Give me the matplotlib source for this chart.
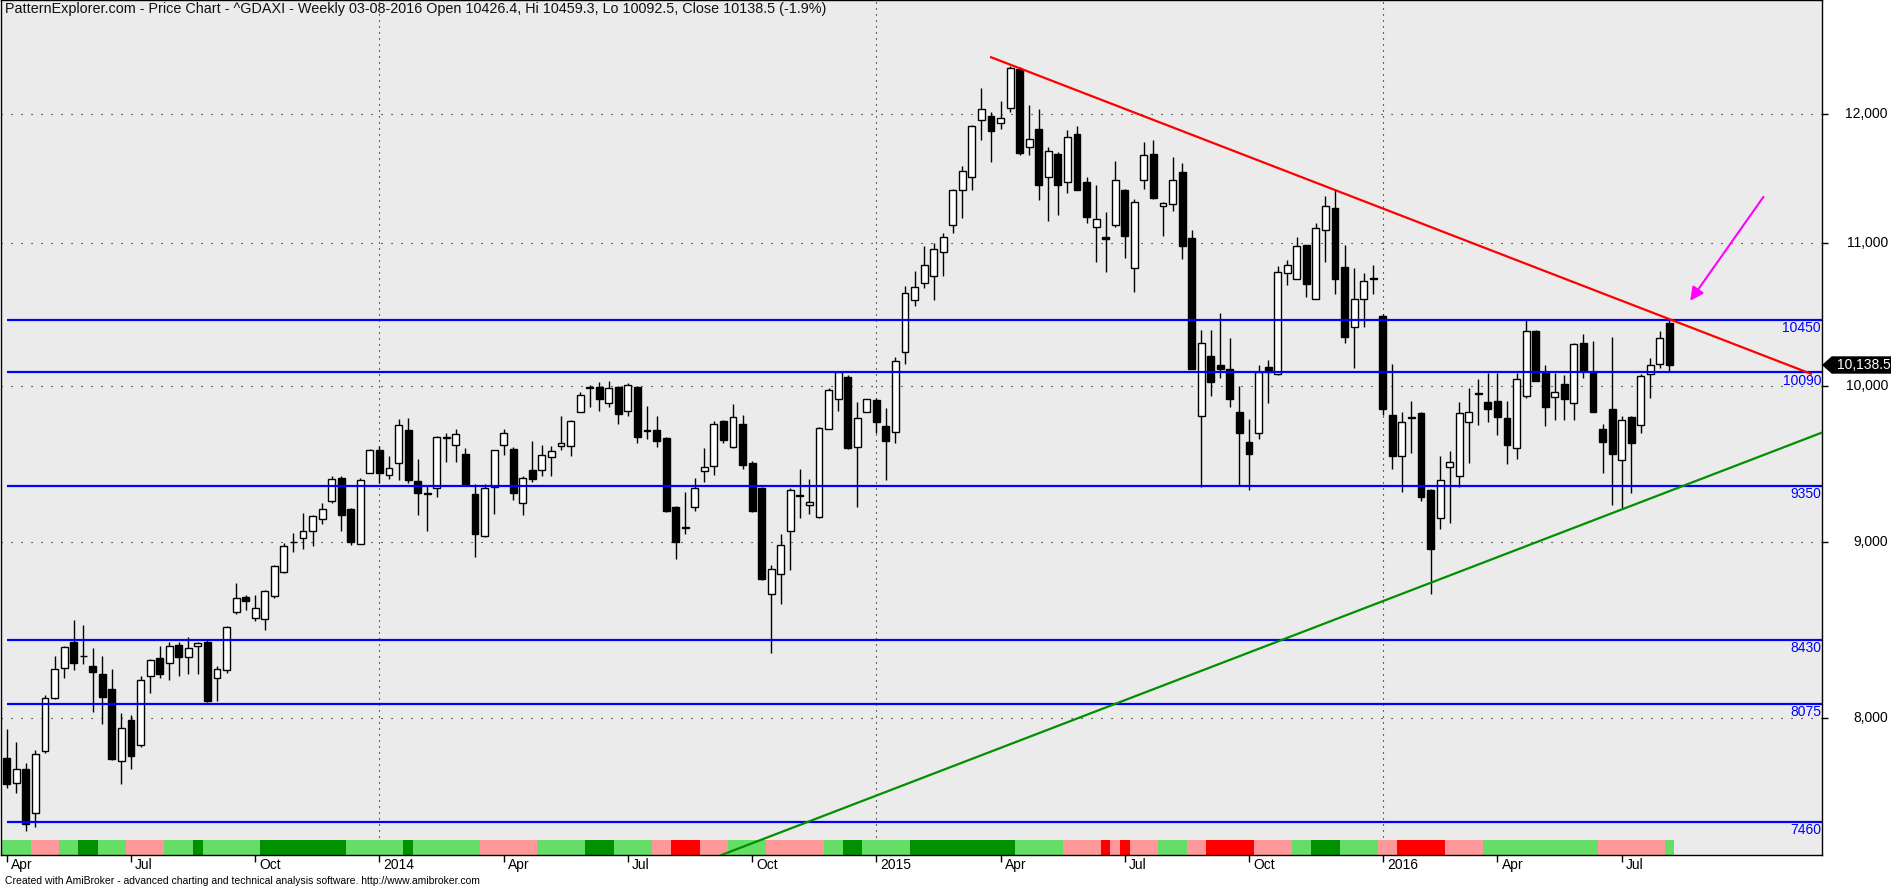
import numpy as np
import matplotlib.pyplot as plt
from matplotlib.patches import Rectangle, Polygon
from matplotlib.ticker import FixedLocator, NullLocator, NullFormatter
from matplotlib.transforms import blended_transform_factory, IdentityTransform

plt.rcParams['font.family'] = ['Liberation Sans', 'DejaVu Sans']

# weekly ^GDAXI, Apr 2013 .. 03-08-2016
opens = [7789, 7660, 7733, 7508, 7822, 8110, 8271, 8420, 8340, 8284,
         8237, 8159, 7771, 7990, 7858, 8231, 8331, 8303, 8404, 8334,
         8395, 8420, 8218, 8262, 8592, 8677, 8553, 8549, 8680, 8824,
         9005, 9027, 9072, 9144, 9253, 9401, 9207, 8993, 9430, 9575,
         9419, 9491, 9703, 9377, 9306, 9334, 9652, 9611, 9549, 9295,
         9041, 9341, 9611, 9582, 9242, 9448, 9448, 9531, 9600, 9600,
         9825, 9980, 9992, 9882, 9992, 9833, 9992, 9707, 9703, 9655,
         9218, 9096, 9218, 9445, 9477, 9766, 9593, 9747, 9491, 9338,
         8697, 8814, 9072, 9292, 9232, 9155, 9714, 9908, 10056, 9593,
         9825, 9904, 9733, 9692, 10225, 10589, 10711, 10760, 10941, 11139,
         11400, 11504, 11950, 11982, 11927, 12050, 12366, 11734, 11877, 11500,
         11680, 11460, 11837, 11465, 11126, 11046, 11134, 11404, 10817, 11482,
         11680, 11283, 11292, 11539, 11042, 9799, 10199, 10140, 10109, 9825,
         9630, 9685, 10125, 10079, 10785, 10744, 10987, 10601, 11097, 11262,
         10830, 10398, 10601, 10748, 10481, 9807, 9538, 9788, 9814, 9320,
         9151, 9466, 9412, 9755, 9950, 9889, 9897, 9785, 9586, 9927,
         10370, 10090, 9923, 10011, 9882, 10288, 10090, 9711, 9845, 9513,
         9788, 9740, 10079, 10148, 10426.4]
highs = [7942, 7873, 7760, 7828, 8122, 8340, 8398, 8543, 8514, 8385,
         8340, 8268, 8024, 8018, 8231, 8325, 8398, 8420, 8420, 8449,
         8420, 8427, 8284, 8507, 8760, 8687, 8687, 8720, 8864, 8996,
         9058, 9179, 9169, 9242, 9412, 9412, 9211, 9401, 9582, 9604,
         9538, 9777, 9784, 9520, 9348, 9666, 9685, 9714, 9586, 9359,
         9359, 9575, 9714, 9593, 9412, 9637, 9611, 9604, 9796, 9773,
         9957, 10003, 10022, 10033, 10000, 10018, 10000, 9863, 9796, 9663,
         9225, 9313, 9401, 9586, 9766, 9773, 9878, 9803, 9509, 9341,
         8864, 9054, 9334, 9455, 9391, 9725, 9984, 10098, 10071, 9889,
         9912, 9919, 9852, 10195, 10691, 10797, 10983, 11000, 11076, 11408,
         11588, 11909, 12212, 12018, 12105, 12389, 12384, 12073, 12041, 11734,
         11698, 11868, 11905, 11500, 11439, 11232, 11623, 11413, 11330, 11779,
         11792, 11313, 11658, 11610, 11097, 10378, 10378, 10501, 10323, 9996,
         9777, 10137, 10175, 10834, 10879, 11050, 10991, 11155, 11356, 11413,
         10987, 10822, 10781, 10846, 10489, 10148, 9825, 9897, 9822, 9327,
         9538, 9568, 9889, 9984, 10041, 10086, 10086, 9897, 10086, 10458,
         10382, 10137, 10086, 10071, 10292, 10351, 10303, 9747, 10331, 9796,
         9796, 10079, 10187, 10370, 10459.3]
lows = [7631, 7608, 7414, 7436, 7816, 8100, 8218, 8259, 8297, 8033,
        7966, 7777, 7651, 7730, 7843, 8134, 8215, 8209, 8231, 8237,
        8240, 8085, 8094, 8246, 8576, 8602, 8540, 8485, 8670, 8820,
        8942, 8959, 8976, 9113, 9242, 9068, 8986, 8993, 9427, 9366,
        9394, 9384, 9366, 9165, 9068, 9277, 9502, 9499, 9352, 8915,
        9034, 9176, 9546, 9260, 9165, 9370, 9412, 9412, 9575, 9535,
        9822, 9859, 9833, 9859, 9747, 9796, 9622, 9648, 9593, 9183,
        8898, 9051, 9193, 9370, 9419, 9619, 9586, 9455, 9183, 8777,
        8356, 8638, 8837, 9148, 9172, 9151, 9711, 9833, 9582, 9214,
        9822, 9685, 9384, 9619, 10148, 10549, 10678, 10589, 10764, 11076,
        11189, 11404, 11788, 11618, 11882, 12018, 11676, 11676, 11326, 11168,
        11211, 11378, 11404, 11155, 10867, 10793, 11126, 10896, 10650, 11413,
        11335, 11054, 11245, 10887, 10109, 9341, 9927, 10052, 9859, 9352,
        9323, 9648, 9882, 10071, 10699, 10740, 10609, 10597, 10863, 10630,
        10292, 10117, 10398, 10630, 9807, 9455, 9313, 9557, 9253, 8697,
        9079, 9120, 9341, 9491, 9740, 9758, 9674, 9484, 9520, 9916,
        10030, 9733, 9770, 9770, 9770, 10048, 9822, 9430, 9228, 9211,
        9306, 9685, 9919, 10117, 10092.5]
closes = [7651, 7733, 7450, 7807, 8110, 8268, 8388, 8303, 8338, 8252,
          8116, 7783, 7948, 7798, 8206, 8319, 8240, 8398, 8334, 8382,
          8411, 8091, 8268, 8501, 8670, 8654, 8615, 8713, 8857, 8979,
          9000, 9068, 9162, 9207, 9394, 9165, 9000, 9384, 9575, 9430,
          9462, 9736, 9384, 9306, 9299, 9659, 9659, 9681, 9359, 9051,
          9334, 9575, 9685, 9306, 9401, 9394, 9546, 9568, 9619, 9766,
          9935, 9988, 9908, 9980, 9811, 10003, 9659, 9700, 9637, 9190,
          9000, 9089, 9334, 9466, 9747, 9644, 9792, 9481, 9190, 8780,
          8840, 8986, 9323, 9284, 9249, 9722, 9973, 10090, 9586, 9781,
          9908, 9755, 9637, 10164, 10642, 10687, 10842, 10958, 11050, 11400,
          11548, 11900, 12041, 11859, 11964, 12375, 11685, 11801, 11443, 11702,
          11443, 11814, 11404, 11194, 11185, 11034, 11482, 11054, 11309, 11671,
          11339, 11305, 11482, 10979, 10113, 10292, 10026, 10113, 9908, 9685,
          9549, 10090, 10094, 10789, 10846, 10979, 10703, 11113, 11283, 10744,
          10331, 10601, 10723, 10740, 9845, 9535, 9758, 9781, 9277, 8959,
          9384, 9502, 9814, 9822, 9942, 9841, 9788, 9611, 10041, 10370,
          10033, 9859, 9954, 9908, 10284, 10098, 9825, 9630, 9549, 9770,
          9619, 10067, 10137, 10323, 10138.5]

month_pos = [0, 13, 26, 39, 52, 65, 78, 91, 104, 117, 130, 144, 156, 169]
month_labels = ['Apr', 'Jul', 'Oct', '2014', 'Apr', 'Jul', 'Oct', '2015',
                'Apr', 'Jul', 'Oct', '2016', 'Apr', 'Jul']
year_pos = [39, 91, 144]

levels = [10450, 10090, 9350, 8430, 8075, 7460]
price_ticks = [8000, 9000, 10000, 11000, 12000]
price_labels = ['8,000', '9,000', '10,000', '11,000', '12,000']

resistance_x = [103.0, 188.8]
resistance_y = [12465, 10079]
support_x = [74.8, 190.0]
support_y = [7297, 9690]
arrow_from = (184.0, 11367)
arrow_to = (176.0, 10569)

# colour ribbon at the bottom: (colour code, number of weeks)
ribbon_runs = [('L', 3), ('P', 3), ('L', 2), ('D', 2), ('L', 3), ('P', 4), ('L', 3),
               ('D', 1), ('L', 6), ('D', 9), ('L', 6), ('D', 1), ('L', 7), ('P', 6),
               ('L', 5), ('D', 3), ('L', 4), ('P', 2), ('R', 3), ('P', 3), ('L', 4),
               ('P', 6), ('L', 2), ('D', 2), ('L', 5), ('D', 11), ('L', 5), ('P', 4),
               ('R', 1), ('P', 1), ('R', 1), ('P', 3), ('L', 3), ('P', 2), ('R', 5),
               ('P', 4), ('L', 2), ('D', 3), ('L', 4), ('P', 2), ('R', 5), ('P', 4),
               ('L', 12), ('P', 7), ('L', 1)]
ribbon_colors = {'L': '#66dd66', 'D': '#009000', 'P': '#ff9999', 'R': '#ff0000'}

title = ("PatternExplorer.com - Price Chart - ^GDAXI - Weekly 03-08-2016 Open 10426.4, "
         "Hi 10459.3, Lo 10092.5, Close 10138.5 (-1.9%)")

W, H = 1891, 888
fig = plt.figure(figsize=(W / 100, H / 100), dpi=100)
ax = fig.add_axes([1 / W, 33 / H, 1821 / W, 855 / H])
ax.set_facecolor('#ebebeb')
ax.set_yscale('log')
x_lo, x_hi = -0.6, 189.96
y_lo, y_hi = 7297, 12953
ax.set_xlim(x_lo, x_hi)
ax.set_ylim(y_lo, y_hi)

# grid
ax.hlines(price_ticks, x_lo, x_hi, colors='black', linestyles=(0, (1, 8)), lw=0.8, zorder=1)
ax.vlines(year_pos, y_lo, y_hi, colors='black', linestyles=(0, (1, 4.4)), lw=0.8, zorder=1)

# ribbon
bx = blended_transform_factory(ax.transData, ax.transAxes)
start = 0
for code, cnt in ribbon_runs:
    ax.add_patch(Rectangle((start - 0.5, 0), cnt, 15 / 855, transform=bx,
                           facecolor=ribbon_colors[code], edgecolor='none', zorder=2))
    start += cnt

# candles
o = np.array(opens, dtype=float)
c = np.array(closes, dtype=float)
x = np.arange(len(o))
ax.vlines(x, lows, highs, colors='black', lw=1, zorder=3)
face = np.where(c >= o, 'white', 'black')
ax.bar(x, np.abs(c - o), bottom=np.minimum(o, c), width=0.72, color=face,
       edgecolor='black', linewidth=1, zorder=4)

# support / resistance levels
ax.hlines(levels, 0, x_hi, colors='#0000ff', lw=1.6, zorder=5)
by = blended_transform_factory(ax.transAxes, ax.transData)
for lv in levels:
    ax.annotate(str(lv), xy=(1 - 1 / 1821, lv), xycoords=by, xytext=(0, -1),
                textcoords='offset points', ha='right', va='top',
                color='#0000ff', fontsize=10, zorder=7)

ax.plot(resistance_x, resistance_y, color='#ff0000', lw=1.6, zorder=6)
ax.plot(support_x, support_y, color='#009000', lw=1.6, zorder=6)
ax.annotate('', xy=arrow_to, xytext=arrow_from,
            arrowprops=dict(arrowstyle='-|>', color='#ff00ff', lw=1.5, mutation_scale=20),
            zorder=7)

# axes
for s in ax.spines.values():
    s.set_color('black')
    s.set_linewidth(1)
ax.yaxis.set_ticks_position('right')
ax.yaxis.set_major_locator(FixedLocator(price_ticks))
ax.yaxis.set_minor_locator(NullLocator())
ax.yaxis.set_major_formatter(NullFormatter())
ax.yaxis.set_minor_formatter(NullFormatter())
ax.tick_params(axis='y', direction='out', length=4.5, width=1, color='black')
ax.set_xticks(month_pos)
ax.set_xticklabels([])
ax.tick_params(axis='x', direction='out', length=5, width=1, color='black')

fy = blended_transform_factory(fig.transFigure, ax.transData)
for p, lab in zip(price_ticks, price_labels):
    ax.text(1888 / W, p, lab, transform=fy, ha='right', va='center', fontsize=10,
            clip_on=False)

for p, lab in zip(month_pos, month_labels):
    ax.text(p + 0.45, -3 / 855, lab, transform=bx, ha='left', va='top', fontsize=10,
            clip_on=False)

ax.text(4 / 1821, 1 - 9 / 855, title, transform=ax.transAxes, ha='left', va='center',
        fontsize=10.4, color='#111111')

fig.text(5 / W, 7 / H, "Created with AmiBroker - advanced charting and technical "
         "analysis software. http://www.amibroker.com", ha='left', va='center', fontsize=7.5)

# last price marker
yp = ax.transData.transform((0, closes[-1]))[1]
x0 = ax.transAxes.transform((1, 0))[0]
verts = [(x0 + 1, yp), (x0 + 10, yp + 8), (W, yp + 8), (W, yp - 8), (x0 + 10, yp - 8)]
fig.add_artist(Polygon(verts, closed=True, facecolor='black', edgecolor='black',
                       transform=IdentityTransform(), zorder=5))
fig.text(1837 / W, yp / H, '10,138.5', ha='left', va='center',
         color='white', fontsize=10, zorder=6)

fig.savefig('out.png', dpi=100)
